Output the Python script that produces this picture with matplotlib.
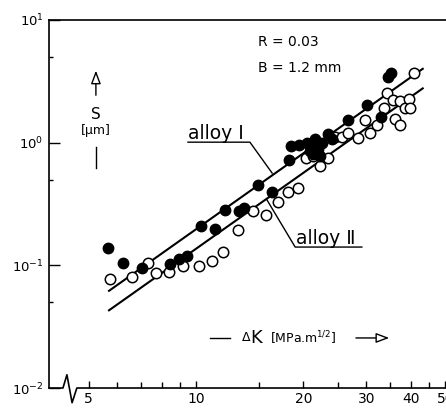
import numpy as np
import matplotlib
matplotlib.use('Agg')
import matplotlib.pyplot as plt
from matplotlib.ticker import FixedLocator, FixedFormatter, NullFormatter

# alloy I (filled circles) - dK [MPa m^1/2], s [um]
dk_alloy1 = [5.66, 6.22, 7.05, 8.44, 8.96, 9.42, 10.33, 11.3, 12.08, 13.2, 13.65,
             14.95, 16.3, 18.25, 18.4, 19.4, 20.4, 21.1, 21.5, 21.3, 22.0, 22.5,
             23.5, 24.0, 20.9, 22.3, 26.7, 30.1, 33.1, 34.6, 35.3]
s_alloy1 = [0.1395, 0.105, 0.096, 0.1016, 0.113, 0.120, 0.208, 0.198, 0.283, 0.276, 0.292,
            0.454, 0.394, 0.725, 0.942, 0.96, 1.0, 0.94, 1.07, 0.807, 0.885, 1.0,
            1.17, 1.07, 0.86, 0.78, 1.53, 2.02, 1.63, 3.45, 3.72]

# alloy II (open circles)
dk_alloy2 = [5.72, 6.6, 7.35, 7.73, 8.42, 9.18, 10.2, 11.06, 11.9, 13.08, 14.47,
             15.67, 16.98, 18.14, 19.3, 20.3, 21.3, 22.2, 23.5, 24.5, 25.7, 26.7,
             28.5, 29.7, 30.7, 32.1, 33.6, 34.4, 35.7, 36.1, 37.3, 37.3, 38.5,
             39.5, 39.7, 40.8]
s_alloy2 = [0.0777, 0.080, 0.105, 0.0869, 0.089, 0.098, 0.098, 0.109, 0.128, 0.195, 0.279,
            0.257, 0.330, 0.398, 0.424, 0.744, 0.78, 0.648, 0.744, 1.12, 1.12, 1.19,
            1.10, 1.53, 1.21, 1.39, 1.90, 2.53, 2.23, 1.57, 1.39, 2.19, 1.93,
            2.29, 1.93, 3.67]

# fitted lines (end points)
fit_dk = [5.7, 43.2]
fit_alloy1 = [0.062, 4.0]
fit_alloy2 = [0.043, 2.77]

x_major = [5, 10, 20, 30, 40, 50]
x_minor = [6, 7, 8, 9, 15, 25, 35, 45]
y_major = [1e-2, 1e-1, 1e0, 1e1]
y_minor = [5e-2, 5e-1, 5e0]
y_labels = [r'$10^{-2}$', r'$10^{-1}$', r'$10^{0}$', r'$10^{1}$']

fig = plt.figure(figsize=(4.46, 4.08), dpi=100)
ax = fig.add_axes([0.110, 0.049, 0.890, 0.902])

ax.plot(fit_dk, fit_alloy1, color='black', lw=1.5, zorder=2)
ax.plot(fit_dk, fit_alloy2, color='black', lw=1.5, zorder=2)
ax.plot(dk_alloy2, s_alloy2, 'o', ms=7.5, mfc='white', mec='black', mew=1.1, zorder=3)
ax.plot(dk_alloy1, s_alloy1, 'o', ms=7.5, mfc='black', mec='black', zorder=4)

ax.set_xscale('log')
ax.set_yscale('log')
ax.set_xlim(3.87, 50.2)
ax.set_ylim(1e-2, 1e1)

ax.xaxis.set_major_locator(FixedLocator(x_major))
ax.xaxis.set_major_formatter(FixedFormatter([str(v) for v in x_major]))
ax.xaxis.set_minor_locator(FixedLocator(x_minor))
ax.xaxis.set_minor_formatter(NullFormatter())
ax.yaxis.set_major_locator(FixedLocator(y_major))
ax.yaxis.set_major_formatter(FixedFormatter(y_labels))
ax.yaxis.set_minor_locator(FixedLocator(y_minor))
ax.yaxis.set_minor_formatter(NullFormatter())

ax.tick_params(axis='x', which='major', direction='in', length=5, width=1, labelsize=10, pad=3)
ax.tick_params(axis='x', which='minor', direction='in', length=4, width=1)
ax.tick_params(axis='y', which='major', direction='in', length=8, width=1, labelsize=9.5, pad=4)
ax.tick_params(axis='y', which='minor', direction='in', length=3, width=1)

ax.spines['right'].set_visible(False)
ax.spines['bottom'].set_visible(False)
ax.spines['left'].set_linewidth(1.2)
ax.spines['top'].set_linewidth(1.2)

# broken x axis baseline
ax.plot([0, 0.035, 0.045, 0.058, 0.070, 1.0], [0, 0, 0.036, -0.040, 0, 0],
        transform=ax.transAxes, color='black', lw=1.2, clip_on=False)

# parameter text
ax.text(0.526, 0.940, 'R = 0.03', transform=ax.transAxes, fontsize=10, va='center')
ax.text(0.526, 0.870, 'B = 1.2 mm', transform=ax.transAxes, fontsize=10, va='center')

# curve labels with underline + leader
ax.text(0.350, 0.676, 'alloy Ⅰ', transform=ax.transAxes, fontsize=13.5, va='baseline')
ax.plot([0.350, 0.506, 0.562], [0.668, 0.668, 0.584], transform=ax.transAxes,
        color='black', lw=1.0)
ax.text(0.622, 0.391, 'alloy Ⅱ', transform=ax.transAxes, fontsize=13.5, va='baseline')
ax.plot([0.788, 0.620, 0.549], [0.383, 0.383, 0.511], transform=ax.transAxes,
        color='black', lw=1.0)

# y axis label with arrow
ax.annotate('', xy=(0.118, 0.870), xytext=(0.118, 0.788), xycoords='axes fraction',
            arrowprops=dict(arrowstyle='-|>,head_length=0.8,head_width=0.3',
                            fc='white', ec='black', lw=1.0))
ax.text(0.118, 0.742, 'S', transform=ax.transAxes, fontsize=11, ha='center', va='center')
ax.text(0.118, 0.701, '[µm]', transform=ax.transAxes, fontsize=9, ha='center', va='center')
ax.plot([0.118, 0.118], [0.655, 0.598], transform=ax.transAxes, color='black', lw=1.0)

# x axis label with arrow
ax.plot([0.406, 0.456], [0.136, 0.136], transform=ax.transAxes, color='black', lw=1.0)
ax.text(0.486, 0.136, 'Δ', transform=ax.transAxes, fontsize=9, va='center')
ax.text(0.506, 0.136, 'K', transform=ax.transAxes, fontsize=13, va='center')
ax.text(0.557, 0.136, '[MPa.m$^{1/2}$]', transform=ax.transAxes, fontsize=9, va='center')
ax.annotate('', xy=(0.864, 0.136), xytext=(0.766, 0.136), xycoords='axes fraction',
            arrowprops=dict(arrowstyle='-|>,head_length=0.8,head_width=0.3',
                            fc='white', ec='black', lw=1.0))

fig.savefig('out.png', dpi=100)
